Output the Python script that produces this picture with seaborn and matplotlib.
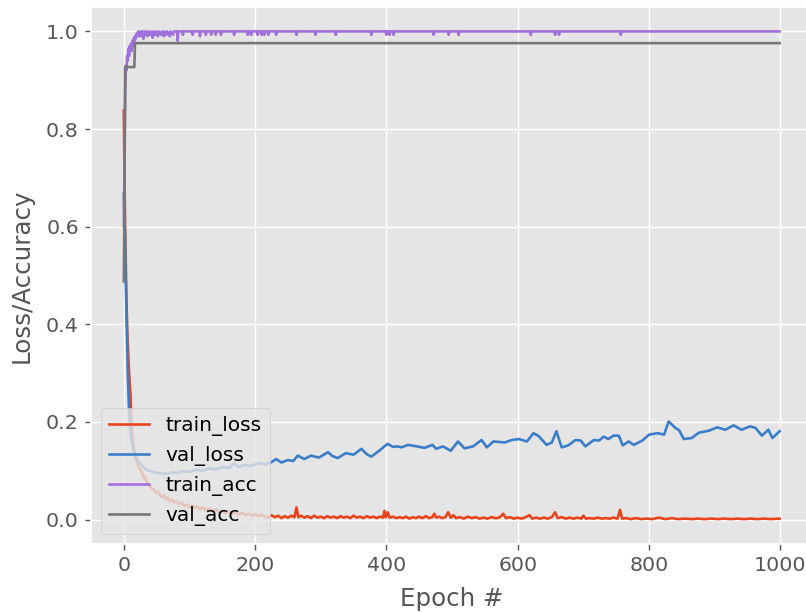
import matplotlib
matplotlib.use("Agg")
import pandas as pd
import matplotlib.pyplot as plt
import seaborn as sns

plt.style.use("ggplot")
plt.rcParams["font.size"] = 11.7
plt.rcParams["axes.labelsize"] = 14
plt.rcParams["xtick.labelsize"] = 11.7
plt.rcParams["ytick.labelsize"] = 11.7
plt.rcParams["legend.fontsize"] = 11.5

# ---------------- data, (epoch, value) pairs ----------------
train_loss_points = [
    (0, 0.838), (1, 0.70), (2, 0.60), (3, 0.52), (4, 0.45), (5, 0.40), (6, 0.36), (7, 0.33),
    (8, 0.30), (9, 0.28), (10, 0.26), (11, 0.22), (12, 0.20), (13, 0.17), (14, 0.16), (15, 0.15),
    (16, 0.14), (17, 0.135), (18, 0.125), (20, 0.118), (22, 0.11), (24, 0.105), (26, 0.10),
    (28, 0.095), (30, 0.085), (32, 0.09), (34, 0.08), (36, 0.075), (38, 0.072), (40, 0.068),
    (43, 0.064), (46, 0.06), (49, 0.055), (52, 0.058), (55, 0.05), (58, 0.046), (61, 0.05),
    (64, 0.042), (67, 0.045), (70, 0.038), (73, 0.042), (76, 0.035), (80, 0.038), (84, 0.032),
    (88, 0.035), (92, 0.028), (96, 0.031), (100, 0.025), (104, 0.029), (108, 0.024), (112, 0.027),
    (116, 0.021), (120, 0.025), (125, 0.019), (130, 0.023), (135, 0.017), (140, 0.021), (145, 0.015),
    (150, 0.019), (155, 0.013), (160, 0.017), (165, 0.012), (170, 0.015), (175, 0.010), (180, 0.014),
    (185, 0.009), (190, 0.012), (195, 0.008), (200, 0.011), (205, 0.007), (210, 0.010), (215, 0.006),
    (220, .004), (225, .009), (230, .005), (235, .008), (240, .003), (245, .007), (250, .004),
    (255, .008), (260, .005), (263, .025), (266, .005), (270, .008), (275, .004), (280, .007),
    (285, .003), (290, .008), (295, .004), (300, .006), (305, .003), (310, .007), (315, .004),
    (320, .006), (325, .003), (330, .007), (335, .004), (340, .006), (345, .003), (350, .008),
    (355, .004), (360, .006), (365, .003), (370, .007), (375, .004), (380, .006), (385, .003),
    (390, .006), (395, .004), (397, .018), (399, .005), (402, .015), (405, .004), (410, .006),
    (415, .003), (420, .005), (425, .003), (430, .006), (435, .002), (440, .005), (445, .003),
    (450, .006), (455, .003), (460, .007), (465, .003), (470, .005), (473, .012), (476, .004),
    (480, .006), (485, .003), (490, .005), (494, .015), (498, .004), (502, .009), (506, .003),
    (512, .005), (518, .002), (524, .006), (530, .003), (536, .005), (542, .002), (548, .004),
    (554, .002), (560, .005), (566, .003), (572, .004), (578, .012), (582, .003), (588, .005),
    (594, .002), (600, .004), (606, .002), (612, .005), (618, .009), (622, .002), (628, .004),
    (634, .002), (640, .004), (646, .002), (652, .005), (657, .015), (661, .003), (667, .005),
    (673, .002), (679, .004), (685, .002), (691, .004), (697, .002), (700, .008), (704, .002),
    (710, .003), (716, .002), (722, .004), (728, .002), (734, .003), (740, .002), (746, .004),
    (752, .002), (756, .020), (759, .002), (765, .003), (772, .001), (780, .003), (788, .001),
    (796, .002), (805, .001), (815, .004), (825, .001), (835, .003), (845, .001), (855, .002),
    (865, .001), (875, .002), (885, .001), (895, .002), (905, .001), (915, .002), (925, .001),
    (935, .002), (945, .001), (955, .002), (965, .001), (975, .002), (985, .001), (999, .002),
]

val_loss_points = [
    (0, 0.668), (2, 0.55), (4, 0.42), (6, 0.30), (8, 0.22), (10, 0.18), (12, 0.16), (15, 0.14),
    (18, 0.13), (22, 0.12), (26, 0.113), (30, 0.107), (35, 0.102), (40, 0.099), (50, 0.096),
    (60, 0.094), (67, 0.094), (75, 0.097), (80, 0.095), (90, 0.099), (100, 0.098), (110, 0.102),
    (120, 0.100), (130, 0.105), (140, 0.103), (150, 0.108), (160, 0.106), (168, 0.115), (175, 0.108),
    (185, 0.112), (195, 0.110), (205, 0.116), (215, 0.113), (224, 0.117), (232, 0.124), (240, 0.117),
    (250, 0.122), (258, 0.120), (265, 0.131), (275, 0.124), (285, 0.131), (297, 0.127), (311, 0.138),
    (318, 0.130), (326, 0.126), (338, 0.136), (350, 0.133), (362, 0.145), (370, 0.134), (377, 0.129),
    (390, 0.142), (397, 0.150), (402, 0.155), (410, 0.149), (417, 0.150), (423, 0.148), (433, 0.153),
    (446, 0.150), (458, 0.147), (470, 0.153), (476, 0.145), (486, 0.150), (498, 0.141), (509, 0.160),
    (519, 0.146), (532, 0.150), (545, 0.163), (553, 0.148), (563, 0.160), (580, 0.158), (591, 0.163),
    (602, 0.165), (614, 0.160), (624, 0.177), (632, 0.171), (644, 0.153), (652, 0.158), (659, 0.181),
    (667, 0.148), (677, 0.152), (688, 0.163), (696, 0.162), (703, 0.150), (716, 0.163), (724, 0.162),
    (731, 0.170), (738, 0.165), (746, 0.172), (754, 0.172), (760, 0.152), (769, 0.160), (777, 0.153),
    (790, 0.162), (800, 0.174), (813, 0.177), (823, 0.174), (830, 0.201), (840, 0.188), (846, 0.183),
    (853, 0.165), (865, 0.167), (876, 0.178), (891, 0.182), (904, 0.189), (916, 0.184), (929, 0.193),
    (941, 0.184), (954, 0.191), (962, 0.188), (972, 0.172), (982, 0.184), (988, 0.167), (999, 0.181),
]

train_acc_points = [
    (0, 0.60), (1, 0.72), (2, 0.86), (3, 0.93), (4, 0.92), (5, 0.95), (6, 0.94), (7, 0.965),
    (8, 0.95), (9, 0.97), (10, 0.96), (11, 0.975), (12, 0.96), (13, 0.98), (14, 0.97), (15, 0.985),
    (16, 0.98), (17, 0.99), (18, 0.985), (19, 0.995), (20, 0.99), (22, 1.0), (24, 0.99), (26, 1.0),
    (27, 0.99), (28, 1.0), (30, 0.985), (31, 1.0), (33, 0.993), (34, 1.0), (36, 0.99), (37, 1.0),
    (40, 0.993), (41, 1.0), (44, 0.987), (45, 1.0), (48, 0.993), (49, 1.0), (52, 0.99), (53, 1.0),
    (57, 0.993), (58, 1.0), (61, 0.99), (62, 1.0), (65, 0.993), (66, 1.0), (70, 0.99), (71, 1.0),
    (75, 0.993), (76, 1.0), (81, 1.0), (82, 0.981), (83, 1.0),
    (89, 1.0), (90, 0.993), (91, 1.0), (104, 1.0), (105, 0.993), (106, 1.0),
    (115, 1.0), (116, 0.99), (117, 1.0), (124, 1.0), (125, 0.993), (126, 1.0),
    (132, 1.0), (133, 0.993), (134, 1.0), (139, 1.0), (140, 0.993), (141, 1.0),
    (147, 1.0), (148, 0.993), (149, 1.0), (167, 1.0), (168, 0.993), (169, 1.0),
    (188, 1.0), (189, 0.993), (190, 1.0), (193, 1.0), (194, 0.993), (195, 1.0),
    (203, 1.0), (204, 0.993), (205, 1.0), (209, 1.0), (210, 0.993), (211, 1.0),
    (213, 1.0), (214, 0.993), (215, 1.0), (219, 1.0), (220, 0.993), (221, 1.0),
    (231, 1.0), (232, 0.993), (233, 1.0), (262, 1.0), (263, 0.993), (264, 1.0),
    (291, 1.0), (292, 0.993), (293, 1.0), (322, 1.0), (323, 0.993), (324, 1.0),
    (376, 1.0), (377, 0.993), (378, 1.0), (399, 1.0), (400, 0.993), (401, 1.0),
    (404, 1.0), (405, 0.993), (406, 1.0), (410, 1.0), (411, 0.993), (412, 1.0),
    (471, 1.0), (472, 0.993), (473, 1.0), (494, 1.0), (495, 0.993), (496, 1.0),
    (509, 1.0), (510, 0.993), (511, 1.0), (619, 1.0), (620, 0.993), (621, 1.0),
    (656, 1.0), (657, 0.993), (658, 1.0), (662, 1.0), (663, 0.993), (664, 1.0),
    (756, 1.0), (757, 0.993), (758, 1.0), (999, 1.0),
]

val_acc_points = [(0, 0.488), (1, 0.659), (2, 0.927), (16, 0.927), (17, 0.976), (999, 0.976)]

series_names = ["train_loss", "val_loss", "train_acc", "val_acc"]
series_colors = ["#E8431A", "#3A7DC8", "#A070DC", "#777777"]
x_label = "Epoch #"
y_label = "Loss/Accuracy"

# ---------------- plot ----------------
fig = plt.figure(figsize=(6.4, 612 / 126), dpi=126)
ax = fig.add_axes([91 / 806, (612 - 544) / 612, (812 - 91) / 806, (544 - 7) / 612])

all_points = [train_loss_points, val_loss_points, train_acc_points, val_acc_points]
for pts, name, col in zip(all_points, series_names, series_colors):
    df = pd.DataFrame(pts, columns=["epoch", "value"])
    sns.lineplot(data=df, x="epoch", y="value", ax=ax, color=col, label=name,
                 linewidth=1.5, sort=False, estimator=None)

ax.set_xlim(-49.95, 1048.95)
ax.set_ylim(-0.05, 1.05)
ax.set_xticks([0, 200, 400, 600, 800, 1000])
ax.set_yticks([0.0, 0.2, 0.4, 0.6, 0.8, 1.0])
ax.set_xlabel(x_label, labelpad=6.5)
ax.set_ylabel(y_label, labelpad=7)
ax.legend(loc="lower left")

fig.savefig("out.png", dpi=126)
